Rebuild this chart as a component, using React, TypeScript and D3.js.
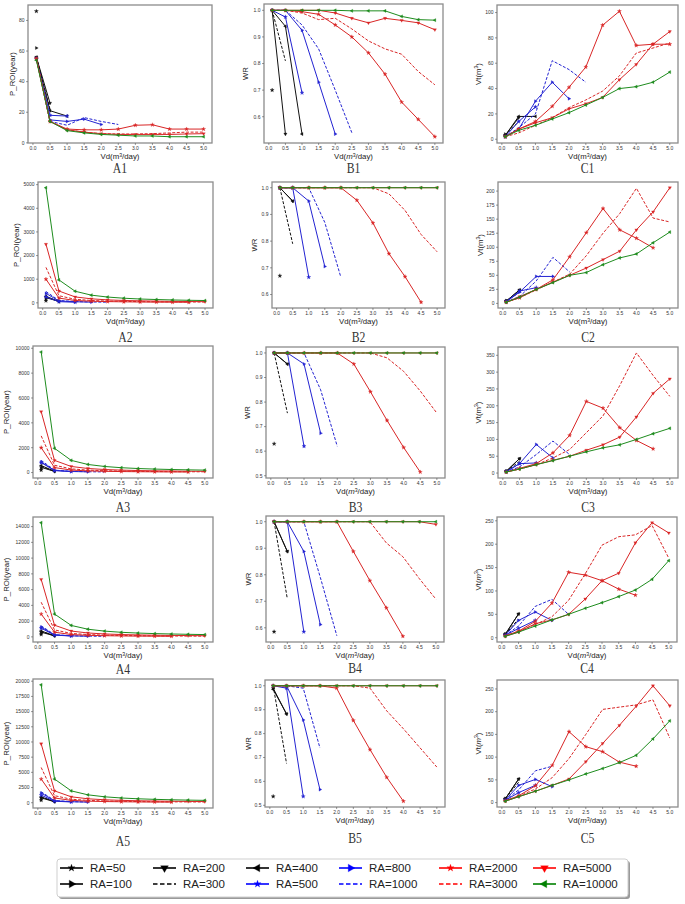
import React from 'react';
import * as d3 from 'd3';

// ---------- DATA ----------
const VD = [0.1, 0.5, 1.0, 1.5, 2.0, 2.5, 3.0, 3.5, 4.0, 4.5, 5.0];
const RA = [50, 100, 200, 300, 400, 500, 800, 1000, 2000, 3000, 5000, 10000];
const X_TICKS = [0, 0.5, 1, 1.5, 2, 2.5, 3, 3.5, 4, 4.5, 5];

// P_ROI(year), one array per RA (values at VD[0..n-1])
const A1_Y = [
  [86], [62], [56, 26], [56, 22], [56, 21, 17.5],
  [55, 18, 17.5], [55, 15, 14, 15.5, 12], [55, 14, 11.5, 16.5, 14, 12],
  [55, 14, 9, 8.5, 8.5, 9, 11.5, 11.8, 9, 9, 9],
  [55, 14, 8.5, 7, 6, 5.8, 5.8, 6, 6.5, 7, 7],
  [55, 14, 8.5, 7, 6, 5.5, 5.5, 5.5, 5.5, 5.8, 6],
  [54, 14, 8, 6.5, 5.5, 5, 4.5, 4.5, 4, 4, 4],
];
const A2_Y = [
  [90], [170], [220, 60], [260, 55], [280, 50],
  [250, 50, 25], [400, 80, 45, 30], [480, 100, 55, 35, 28],
  [1000, 200, 100, 68, 52, 42, 35, 30, 27, 24],
  [1500, 300, 150, 100, 76, 62, 52, 45, 40, 36, 33],
  [2480, 500, 250, 170, 125, 100, 85, 72, 63, 56, 50],
  [4870, 970, 490, 325, 245, 195, 162, 140, 122, 108, 98],
];
const A3_Y = [
  [200], [300], [420, 90], [500, 100], [560, 110],
  [800, 160, 80], [850, 170, 85, 60], [980, 195, 98, 66, 50],
  [2000, 400, 200, 135, 100, 80, 67, 57, 50, 45],
  [2950, 590, 295, 197, 148, 118, 98, 84, 74, 66, 59],
  [4900, 980, 490, 327, 245, 196, 163, 140, 123, 109, 98],
  [9700, 1950, 980, 650, 490, 390, 325, 280, 245, 218, 196],
];
const A4_Y = [
  [300], [450], [600, 120], [700, 140], [750, 150],
  [1100, 220, 110], [1250, 250, 125, 85], [1400, 280, 140, 95, 70],
  [2900, 590, 295, 197, 148, 118, 98, 84, 74],
  [4400, 880, 440, 293, 220, 176, 147, 126, 110, 98, 88],
  [7300, 1480, 740, 495, 370, 296, 247, 212, 185, 165, 148],
  [14500, 2900, 1450, 970, 730, 580, 485, 415, 365, 325, 292],
];
const A5_Y = [
  [400], [600], [800, 160], [900, 180], [950, 190],
  [1250, 250, 125], [1600, 320, 160, 107], [1800, 360, 180, 120],
  [3900, 780, 390, 260, 195, 156, 130, 111, 98],
  [5800, 1160, 580, 387, 290, 232, 193, 166, 145, 129, 116],
  [9700, 1950, 975, 650, 488, 390, 325, 279, 244, 217, 195],
  [19400, 3900, 1950, 1300, 975, 780, 650, 557, 488, 433, 390],
];

// WR
const B1_Y = [
  [0.70], [1.0], [1.0, 0.535], [1.0, 0.81], [1.0, 0.94, 0.535],
  [1.0, 0.975, 0.69], [1.0, 1.0, 0.925, 0.73, 0.535], [1.0, 1.0, 0.945, 0.855, 0.7, 0.54],
  [1.0, 1.0, 0.995, 0.985, 0.945, 0.90, 0.84, 0.76, 0.655, 0.59, 0.525],
  [1.0, 1.0, 0.99, 0.965, 0.97, 0.93, 0.885, 0.855, 0.835, 0.77, 0.72],
  [1, 1, 1, 1, 0.99, 0.97, 0.953, 0.97, 0.962, 0.953, 0.927],
  [1, 1, 1, 1, 1, 0.998, 0.998, 0.998, 0.977, 0.965, 0.963],
];
const B2_Y = [
  [0.67], [1.0], [1.0, 0.95], [1.0, 0.79], [1.0, 0.95],
  [1, 1, 0.665], [1, 1, 0.95, 0.705], [1, 1, 1, 0.87, 0.665],
  [1, 1, 1, 1, 1, 0.953, 0.868, 0.753, 0.667, 0.571],
  [1, 1, 1, 1, 1, 1, 1, 0.977, 0.915, 0.825, 0.76],
  [1, 1, 1, 1, 1, 1, 1, 1, 1, 1, 1],
  [1, 1, 1, 1, 1, 1, 1, 1, 1, 1, 1],
];
const B3_Y = [
  [0.63], [1.0], [1.0, 0.955], [1.0, 0.755], [1.0, 0.955],
  [1, 1, 0.62], [1, 1, 0.955, 0.673], [1, 1, 1, 0.85, 0.62],
  [1, 1, 1, 1, 1, 0.955, 0.842, 0.725, 0.615, 0.515],
  [1, 1, 1, 1, 1, 1, 1, 0.98, 0.925, 0.845, 0.755],
  [1, 1, 1, 1, 1, 1, 1, 1, 1, 1, 1],
  [1, 1, 1, 1, 1, 1, 1, 1, 1, 1, 1],
];
const B4_Y = [
  [0.585], [1.0], [1.0, 0.888], [1.0, 0.71], [1.0, 0.888],
  [1, 1, 0.585], [1, 1, 0.888, 0.612], [1, 1, 1, 0.79, 0.57],
  [1, 1, 1, 1, 1, 0.888, 0.778, 0.675, 0.568],
  [1, 1, 1, 1, 1, 1, 1, 0.92, 0.868, 0.785, 0.708],
  [1, 1, 1, 1, 1, 1, 1, 1, 1, 1, 0.99],
  [1, 1, 1, 1, 1, 1, 1, 1, 1, 1, 1],
];
const B5_Y = [
  [0.537], [0.99], [0.99, 0.882], [1.0, 0.675], [0.985, 0.882],
  [1, 0.99, 0.537], [1, 1, 0.857, 0.566], [1, 1, 0.99, 0.74],
  [1, 1, 1, 1, 0.99, 0.855, 0.733, 0.617, 0.517],
  [1, 1, 1, 1, 1, 1, 0.99, 0.895, 0.82, 0.74, 0.66],
  [1, 1, 1, 1, 1, 1, 1, 1, 1, 1, 1],
  [1, 1, 1, 1, 1, 1, 1, 1, 1, 1, 1],
];

// Vt(m3)
const C1_Y = [
  [3], [4], [3, 17], [3, 14], [3, 18, 18],
  [2, 14, 25.5], [2, 8, 30, 45, 32], [2, 9, 20, 62, 55, 45],
  [2, 8, 14, 26, 41, 57, 90, 101, 74, 75, 75],
  [2, 5, 11, 17, 25, 31, 38, 50, 68, 72, 76],
  [2, 8, 13, 17, 24, 28, 33, 47, 59, 75, 85],
  [2, 7, 11, 16, 21, 27, 33, 40, 41.5, 45, 53],
];
const C2_Y = [
  [4], [5], [4, 24], [4, 20], [4, 24],
  [3, 22, 28], [3, 20, 48, 48], [3, 12, 40, 82, 56],
  [2, 10, 25, 42, 83, 126, 169, 131, 116, 99],
  [2, 10, 24, 38, 52, 85, 125, 160, 205, 152, 145],
  [2, 12, 25, 38, 50, 63, 78, 93, 131, 163, 206],
  [2, 11, 25, 37, 50, 55, 69, 81, 88, 108, 127],
];
const C3_Y = [
  [5], [6], [5, 43], [5, 35], [5, 43],
  [4, 28, 30], [4, 28, 85, 45], [4, 18, 55, 95, 55],
  [3, 14, 28, 60, 112, 213, 193, 135, 97, 72],
  [3, 12, 25, 45, 70, 120, 170, 260, 357, 290, 228],
  [3, 12, 25, 38, 50, 68, 84, 107, 167, 237, 280],
  [3, 12, 25, 37, 50, 63, 75, 84, 100, 117, 133],
];
const C4_Y = [
  [7], [8], [7, 51], [7, 40], [7, 51],
  [5, 20, 37], [5, 37, 55, 37], [5, 25, 67, 82, 50],
  [4, 14, 35, 74, 140, 134, 122, 104, 91],
  [4, 14, 28, 45, 80, 137, 198, 216, 220, 240, 170],
  [3, 12, 30, 38, 50, 83, 122, 138, 203, 246, 224],
  [3, 12, 25, 38, 50, 63, 75, 88, 102, 125, 165],
];
const C5_Y = [
  [8], [9], [8, 52], [8, 45], [8, 52],
  [5, 22, 38], [5, 38, 51, 35], [5, 28, 70, 80],
  [4, 15, 37, 82, 156, 123, 112, 89, 80],
  [4, 14, 30, 55, 97, 150, 205, 210, 215, 226, 142],
  [3, 13, 25, 38, 52, 90, 130, 170, 212, 257, 213],
  [3, 13, 25, 38, 50, 63, 75, 88, 104, 140, 180],
];

// tick labels
const A1_TICKS = [0, 20, 40, 60, 80];
const A2_TICKS = [0, 1000, 2000, 3000, 4000, 5000];
const A3_TICKS = [0, 2000, 4000, 6000, 8000, 10000];
const A4_TICKS = [0, 2000, 4000, 6000, 8000, 10000, 12000, 14000];
const A5_TICKS = [0, 2500, 5000, 7500, 10000, 12500, 15000, 17500, 20000];
const B_TICKS_6 = [0.6, 0.7, 0.8, 0.9, 1.0];
const B_TICKS_5 = [0.5, 0.6, 0.7, 0.8, 0.9, 1.0];
const C1_TICKS = [0, 20, 40, 60, 80, 100];
const C2_TICKS = [0, 25, 50, 75, 100, 125, 150, 175, 200];
const C3_TICKS = [0, 50, 100, 150, 200, 250, 300, 350];
const C45_TICKS = [0, 50, 100, 150, 200, 250];

// ---------- STYLES ----------
const COLORS = ['#000', '#000', '#000', '#000', '#000', '#0000ff', '#0000ff', '#0000ff', '#ff0000', '#ff0000', '#ff0000', '#008000'];
const PLOT_COLORS = ['#111', '#111', '#111', '#111', '#111', '#2323d2', '#2323d2', '#2323d2', '#d92626', '#d92626', '#d92626', '#1e8c1e'];
const DASHED = [false, false, false, true, false, false, false, true, false, true, false, false];
const MARKERS: (string | null)[] = ['star', 'right', 'down', null, 'left', 'star', 'right', null, 'star', null, 'down', 'left'];

const SANS = '"Liberation Sans", Arial, sans-serif';
const SERIF = '"Liberation Serif", "Times New Roman", serif';

type Layout = {
  name: string; ys: number[][]; ticks: number[]; kind: 'A' | 'B' | 'C';
  l: number; r: number; t: number; b: number; ylx: number; capY: number; ital: boolean;
};

const PANELS: Layout[] = [
  { name: 'A1', ys: A1_Y, ticks: A1_TICKS, kind: 'A', l: 28, r: 212, t: 5, b: 143, ylx: 12, capY: 168, ital: false },
  { name: 'B1', ys: B1_Y, ticks: B_TICKS_6, kind: 'B', l: 264, r: 443, t: 4, b: 143, ylx: 245, capY: 168, ital: true },
  { name: 'C1', ys: C1_Y, ticks: C1_TICKS, kind: 'C', l: 497, r: 678, t: 5, b: 143, ylx: 478, capY: 168, ital: false },
  { name: 'A2', ys: A2_Y, ticks: A2_TICKS, kind: 'A', l: 38, r: 213, t: 182, b: 308, ylx: 16, capY: 337, ital: false },
  { name: 'B2', ys: B2_Y, ticks: B_TICKS_6, kind: 'B', l: 272, r: 445, t: 182, b: 308, ylx: 254, capY: 337, ital: false },
  { name: 'C2', ys: C2_Y, ticks: C2_TICKS, kind: 'C', l: 498, r: 678, t: 182, b: 308, ylx: 480, capY: 337, ital: false },
  { name: 'A3', ys: A3_Y, ticks: A3_TICKS, kind: 'A', l: 33, r: 213, t: 346, b: 478, ylx: 6, capY: 507, ital: false },
  { name: 'B3', ys: B3_Y, ticks: B_TICKS_5, kind: 'B', l: 266, r: 445, t: 347, b: 478, ylx: 247, capY: 507, ital: true },
  { name: 'C3', ys: C3_Y, ticks: C3_TICKS, kind: 'C', l: 498, r: 678, t: 347, b: 478, ylx: 478, capY: 507, ital: false },
  { name: 'A4', ys: A4_Y, ticks: A4_TICKS, kind: 'A', l: 33, r: 213, t: 517, b: 642, ylx: 6, capY: 669, ital: false },
  { name: 'B4', ys: B4_Y, ticks: B_TICKS_6, kind: 'B', l: 266, r: 444, t: 516, b: 642, ylx: 248, capY: 668, ital: true },
  { name: 'C4', ys: C4_Y, ticks: C45_TICKS, kind: 'C', l: 497, r: 677, t: 517, b: 642, ylx: 478, capY: 668, ital: true },
  { name: 'A5', ys: A5_Y, ticks: A5_TICKS, kind: 'A', l: 33, r: 213, t: 679, b: 808, ylx: 6, capY: 841, ital: false },
  { name: 'B5', ys: B5_Y, ticks: B_TICKS_5, kind: 'B', l: 265, r: 445, t: 680, b: 807, ylx: 248, capY: 838, ital: true },
  { name: 'C5', ys: C5_Y, ticks: C45_TICKS, kind: 'C', l: 497, r: 678, t: 680, b: 807, ylx: 478, capY: 838, ital: true },
];

function markerPath(m: string, size: number): { d: string; rot: number } {
  if (m === 'star') return { d: d3.symbol().type(d3.symbolStar).size(size)() || '', rot: 0 };
  const d = d3.symbol().type(d3.symbolTriangle).size(size)() || '';
  const rot = m === 'down' ? 180 : m === 'left' ? -90 : 90;
  return { d, rot };
}

function Marker({ m, x, y, color, size }: { m: string; x: number; y: number; color: string; size: number }) {
  const { d, rot } = markerPath(m, size);
  return <path d={d} transform={`translate(${x},${y}) rotate(${rot})`} fill={color} stroke={color} strokeWidth={0.3} />;
}

function Panel({ p }: { p: Layout }) {
  const x = d3.scaleLinear().domain([0.1 - 0.245, 5.0 + 0.245]).range([p.l, p.r]);
  const all = p.ys.flat();
  const mn = d3.min(all) as number;
  const mx = d3.max(all) as number;
  const pad = (mx - mn) * 0.05;
  const y = d3.scaleLinear().domain([mn - pad, mx + pad]).range([p.b, p.t]);
  const line = d3.line<[number, number]>().x(d => x(d[0])).y(d => y(d[1]));
  const fmtY = p.kind === 'B' ? d3.format('.1f') : d3.format('d');
  const cx = (p.l + p.r) / 2;
  const cy = (p.t + p.b) / 2;
  const yLabel = p.kind === 'A' ? 'P_ROI(year)' : p.kind === 'B' ? 'WR' : null;
  return (
    <g>
      {p.ys.map((vals, i) => {
        const pts: [number, number][] = vals.map((v, j) => [VD[j], v]);
        const m = MARKERS[i];
        return (
          <g key={i}>
            {pts.length > 1 && (
              <path d={line(pts) || ''} fill="none" stroke={PLOT_COLORS[i]} strokeWidth={1}
                strokeDasharray={DASHED[i] ? '3,1.6' : undefined} />
            )}
            {m && pts.map((pt, j) => (
              <Marker key={j} m={m} x={x(pt[0])} y={y(pt[1])} color={PLOT_COLORS[i]} size={m === 'star' ? 5 : 4.5} />
            ))}
          </g>
        );
      })}
      <rect x={p.l} y={p.t} width={p.r - p.l} height={p.b - p.t} fill="none" stroke="#8c8c8c" strokeWidth={1.3} />
      {X_TICKS.map(t => (
        <g key={'x' + t}>
          <line x1={x(t)} x2={x(t)} y1={p.b} y2={p.b + 2} stroke="#555" strokeWidth={0.6} />
          <text x={x(t)} y={p.b + 7} fontSize={5} fontFamily={SANS} fill="#333" textAnchor="middle">{t.toFixed(1)}</text>
        </g>
      ))}
      {p.ticks.map(t => (
        <g key={'y' + t}>
          <line x1={p.l - 2} x2={p.l} y1={y(t)} y2={y(t)} stroke="#555" strokeWidth={0.6} />
          <text x={p.l - 3.5} y={y(t) + 1.8} fontSize={5} fontFamily={SANS} fill="#333" textAnchor="end">{fmtY(t)}</text>
        </g>
      ))}
      <text x={cx} y={p.b + 16} fontSize={7.8} fontFamily={SANS} fill="#222" textAnchor="middle">
        Vd(<tspan fontStyle={p.ital ? 'italic' : 'normal'}>m</tspan><tspan dy={-2.5} fontSize={5.2}>3</tspan><tspan dy={2.5}>/day)</tspan>
      </text>
      <text transform={`translate(${p.ylx + 2.5},${cy}) rotate(-90)`} fontSize={7.8} fontFamily={SANS} fill="#222" textAnchor="middle">
        {yLabel ?? (<>Vt(<tspan fontStyle={p.ital ? 'italic' : 'normal'}>m</tspan><tspan dy={-2.5} fontSize={5.2}>3</tspan><tspan dy={2.5}>)</tspan></>)}
      </text>
      <text transform={`translate(${cx},${p.capY + 5}) scale(0.78,1)`} fontSize={15} fontFamily={SERIF} fill="#333" textAnchor="middle">{p.name}</text>
    </g>
  );
}

const LEG_COL_X = [60, 153, 246, 339, 439, 533];
const LEG_ROW_Y = [868, 884];

function Legend() {
  return (
    <g>
      <rect x={59} y={861} width={571} height={38} rx={3} fill="#9a9a9a" />
      <rect x={57} y={859} width={571} height={38} rx={3} fill="#fff" stroke="#cfcfcf" strokeWidth={1} />
      {RA.map((r, i) => {
        const col = Math.floor(i / 2);
        const row = i % 2;
        const x0 = LEG_COL_X[col];
        const yy = LEG_ROW_Y[row];
        const m = MARKERS[i];
        return (
          <g key={r}>
            <line x1={x0} x2={x0 + 23} y1={yy} y2={yy} stroke={COLORS[i]} strokeWidth={1.6}
              strokeDasharray={DASHED[i] ? '4.5,2.5' : undefined} />
            {m && <Marker m={m} x={x0 + 11.5} y={yy} color={COLORS[i]} size={m === 'star' ? 16 : 26} />}
            <text x={x0 + 30} y={yy + 4} fontSize={11.5} fontFamily={SANS} fill="#222">{`RA=${r}`}</text>
          </g>
        );
      })}
    </g>
  );
}

export default function App() {
  return (
    <svg width={685} height={904} viewBox="0 0 685 904"
      style={{ position: 'absolute', left: 0, top: 0, background: '#fff' }}>
      <rect x={0} y={0} width={685} height={904} fill="#fff" />
      {PANELS.map(p => <Panel key={p.name} p={p} />)}
      <Legend />
    </svg>
  );
}
